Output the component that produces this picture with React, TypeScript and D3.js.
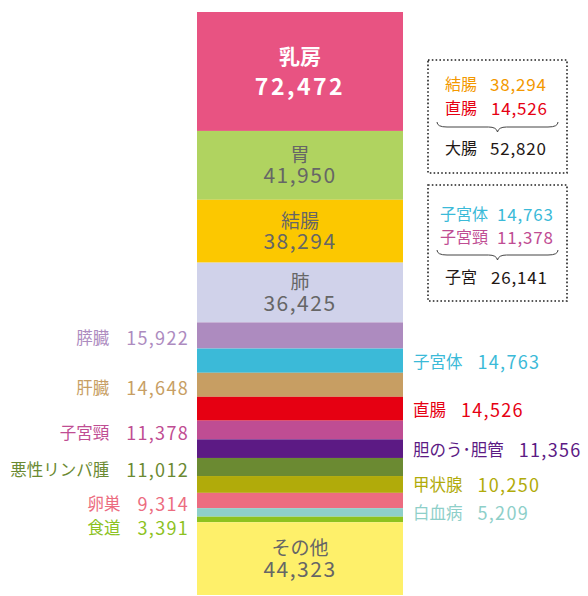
import React from "react";
import * as d3 from "d3";

const sites = ["乳房", "胃", "結腸", "肺", "膵臓", "子宮体", "肝臓", "直腸", "子宮頸", "胆のう･胆管", "悪性リンパ腫", "甲状腺", "卵巣", "白血病", "食道", "その他"];
const counts = [72472, 41950, 38294, 36425, 15922, 14763, 14648, 14526, 11378, 11356, 11012, 10250, 9314, 5209, 3391, 44323];
const palette = ["#e85382", "#b0d360", "#fcc800", "#d0d2ea", "#ad8bbf", "#3bbad8", "#c79e63", "#e60012", "#bf4d93", "#5c1a84", "#6b8a32", "#b1ab0a", "#ec6c80", "#8ecfc9", "#8dc21f", "#fef06a"];
const insideSites = ["乳房", "胃", "結腸", "肺", "その他"];
const leftSites = ["膵臓", "肝臓", "子宮頸", "悪性リンパ腫", "卵巣", "食道"];
const rightSites = ["子宮体", "直腸", "胆のう･胆管", "甲状腺", "白血病"];

const colonParts = ["結腸", "直腸"];
const colonTotalLabel = "大腸";
const uterusParts = ["子宮体", "子宮頸"];
const uterusTotalLabel = "子宮";

const FONT = "'Noto Sans CJK JP', 'Noto Sans', sans-serif";
const fmt = d3.format(",");

export default function App() {
  const W = 588, H = 596;
  const total = d3.sum(counts);
  const y = d3.scaleLinear().domain([0, total]).range([12, 595]);
  const x0 = 197, x1 = 403;
  const stack = counts.map((v, i) => {
    const start = d3.sum(counts.slice(0, i));
    return { name: sites[i], value: v, color: palette[i], y0: y(start), y1: y(start + v) };
  });
  const byName = (n: string) => stack.find((s) => s.name === n)!;

  const leftItems = leftSites.map((n) => ({ ...byName(n), ly: (byName(n).y0 + byName(n).y1) / 2 + 2 }));
  for (let i = 1; i < leftItems.length; i++) {
    if (leftItems[i].ly < leftItems[i - 1].ly + 24) leftItems[i].ly = leftItems[i - 1].ly + 24;
  }
  const rightItems = rightSites.map((n) => ({ ...byName(n), ly: (byName(n).y0 + byName(n).y1) / 2 }));

  const brace = (xa: number, xb: number, yt: number) => {
    const xm = (xa + xb) / 2;
    return `M${xa},${yt} Q${xa},${yt + 5} ${xa + 10},${yt + 5} L${xm - 9},${yt + 5} Q${xm - 1},${yt + 5} ${xm},${yt + 10} Q${xm + 1},${yt + 5} ${xm + 9},${yt + 5} L${xb - 10},${yt + 5} Q${xb},${yt + 5} ${xb},${yt}`;
  };

  const boxRow = (label: string, value: number, color: string, ny: number, nx: number, vx: number, key: string) => (
    <g key={key}>
      <text x={nx} y={ny} fill={color} fontSize={16} dominantBaseline="central" fontFamily={FONT}>{label}</text>
      <text x={vx} y={ny} fill={color} fontSize={17} letterSpacing={0.8} dominantBaseline="central" fontFamily={FONT}>{fmt(value)}</text>
    </g>
  );

  const colonVals = colonParts.map((n) => byName(n).value);
  const uterusVals = uterusParts.map((n) => byName(n).value);

  return (
    <svg width={W} height={H} style={{ position: "absolute", left: 0, top: 0 }} fontFamily={FONT}>
      <rect width={W} height={H} fill="#fff" />
      {stack.map((s) => (
        <rect key={s.name} x={x0} y={s.y0} width={x1 - x0} height={s.y1 - s.y0} fill={s.color} />
      ))}
      {insideSites.map((n) => {
        const s = byName(n);
        const cy = (s.y0 + s.y1) / 2;
        const main = n === "乳房";
        const col = main ? "#ffffff" : "#666666";
        return (
          <g key={n}>
            <text x={(x0 + x1) / 2} y={cy + (main ? -16 : -12)} textAnchor="middle" dominantBaseline="central" fill={col} fontSize={main ? 21 : 19} fontWeight={main ? 700 : 400}>{n}</text>
            <text x={(x0 + x1) / 2} y={cy + (main ? 14 : 9)} textAnchor="middle" dominantBaseline="central" fill={col} fontSize={main ? 23 : 21} fontWeight={main ? 700 : 400} letterSpacing={main ? 2.5 : 1.5}>{fmt(s.value)}</text>
          </g>
        );
      })}
      {leftItems.map((s) => (
        <text key={s.name} x={189} y={s.ly} textAnchor="end" dominantBaseline="central" fill={s.color} fontSize={16.5}>
          {s.name}
          <tspan dx={17} fontSize={18} letterSpacing={1.3}>{fmt(s.value)}</tspan>
        </text>
      ))}
      {rightItems.map((s) => (
        <text key={s.name} x={413} y={s.ly} dominantBaseline="central" fill={s.color} fontSize={16.5}>
          {s.name}
          <tspan dx={15} fontSize={18} letterSpacing={1.3}>{fmt(s.value)}</tspan>
        </text>
      ))}
      <rect x={428} y={60} width={139} height={113} fill="none" stroke="#222" strokeWidth={1.6} strokeDasharray="1.6 2.2" />
      {boxRow(colonParts[0], colonVals[0], "#f39800", 83, 445, 490, "c0")}
      {boxRow(colonParts[1], colonVals[1], "#e60012", 107, 445, 491, "c1")}
      <path d={brace(437, 558, 122)} fill="none" stroke="#444" strokeWidth={1} />
      {boxRow(colonTotalLabel, d3.sum(colonVals), "#231815", 147, 445, 490, "c2")}
      <rect x={428} y={185} width={139} height={116} fill="none" stroke="#222" strokeWidth={1.6} strokeDasharray="1.6 2.2" />
      {boxRow(uterusParts[0], uterusVals[0], "#3bbad8", 213, 440, 497, "u0")}
      {boxRow(uterusParts[1], uterusVals[1], "#bf4d93", 236, 440, 497, "u1")}
      <path d={brace(437, 558, 250)} fill="none" stroke="#444" strokeWidth={1} />
      {boxRow(uterusTotalLabel, d3.sum(uterusVals), "#231815", 276, 445, 491, "u2")}
    </svg>
  );
}
